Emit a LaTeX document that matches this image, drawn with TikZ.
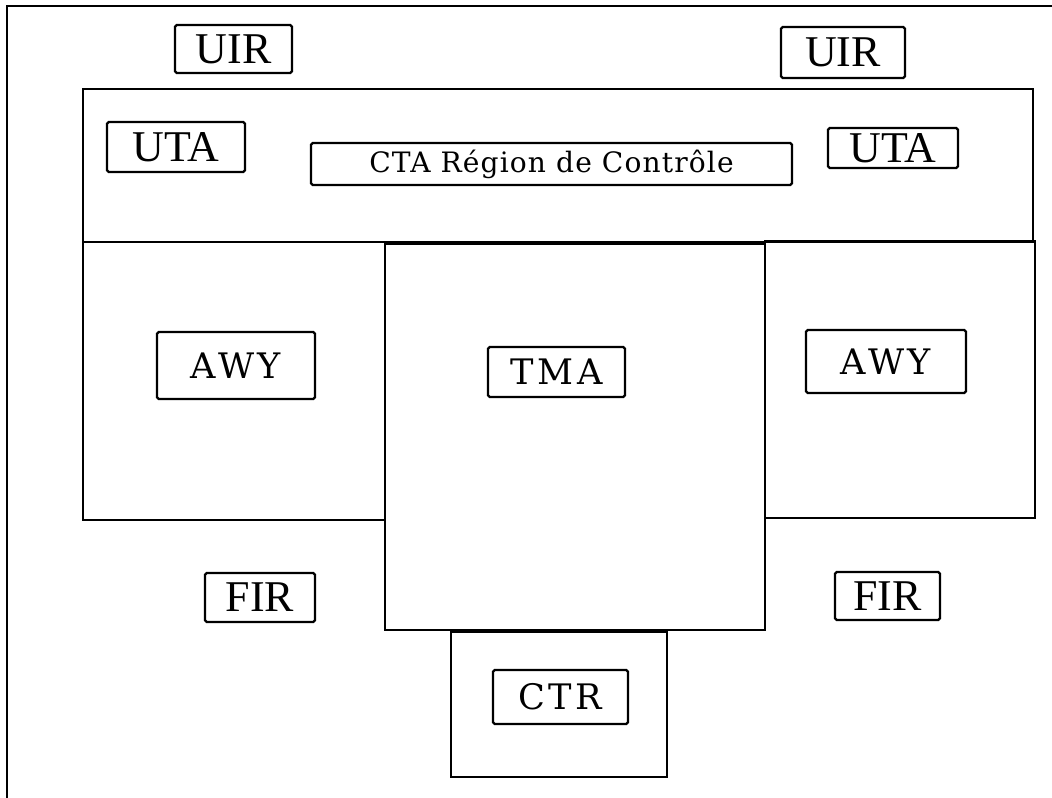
\documentclass[tikz,border=0pt]{standalone}
\usepackage{fontspec}
\setmainfont{Liberation Serif}
\newfontfamily\slabfont{DejaVu Serif}[LetterSpace=10]
\newfontfamily\ctafont{DejaVu Serif}[LetterSpace=4]
\usetikzlibrary{positioning}
\tikzset{
  zone/.style={
    line width=1.4pt
  },
  frameline/.style={
    line width=1.1pt
  },
  namebox/.style={
    shape = rectangle,
    draw,
    line width=1.3pt,
    rounded corners=1pt,
    inner sep=0pt,
    font=\fontsize{25}{28}\selectfont
  },
  slabbox/.style={
    namebox,
    font=\slabfont\fontsize{20}{24}\selectfont
  }
}

\begin{document}
\begin{tikzpicture}[x=0.02cm,y=-0.02cm]
        \useasboundingbox (0,0) rectangle (1052,798);

        % scan frame
        \draw[frameline] (7,798) -- (7,6) -- (1052,6);

        % regions
        \draw[zone] (83,89) rectangle (1033,242);
        \draw[zone] (83,242) rectangle (385,520);
        \draw[zone] (385,244) rectangle (765,630);
        \draw[zone] (765,241) rectangle (1035,518);
        \draw[zone] (451,632) rectangle (667,777);

        % names
        \node[namebox, minimum width=2.34cm, minimum height=0.96cm] (uirL) at (233.5,49) {UIR};
        \node[namebox, minimum width=2.48cm, minimum height=1.02cm] (uirR) at (843,52.5) {UIR};
        \node[namebox, minimum width=2.76cm, minimum height=1.0cm] (utaL) at (176,147) {UTA};
        \node[namebox, minimum width=2.6cm, minimum height=0.8cm] (utaR) at (893,148) {UTA};
        \node[slabbox, font=\ctafont\fontsize{16}{19}\selectfont, minimum width=9.62cm, minimum height=0.84cm] (cta) at (551.5,164) {CTA Région de Contrôle};
        \node[slabbox, minimum width=3.16cm, minimum height=1.34cm] (awyL) at (236,365.5) {AWY};
        \node[slabbox, minimum width=3.2cm, minimum height=1.26cm] (awyR) at (886,361.5) {AWY};
        \node[slabbox, minimum width=2.74cm, minimum height=1.0cm] (tma) at (556.5,372) {TMA};
        \node[namebox, minimum width=2.2cm, minimum height=0.98cm] (firL) at (260,597.5) {FIR};
        \node[namebox, minimum width=2.1cm, minimum height=0.96cm] (firR) at (887.5,596) {FIR};
        \node[slabbox, minimum width=2.7cm, minimum height=1.08cm] (ctr) at (560.5,697) {CTR};
\end{tikzpicture}
\end{document}
